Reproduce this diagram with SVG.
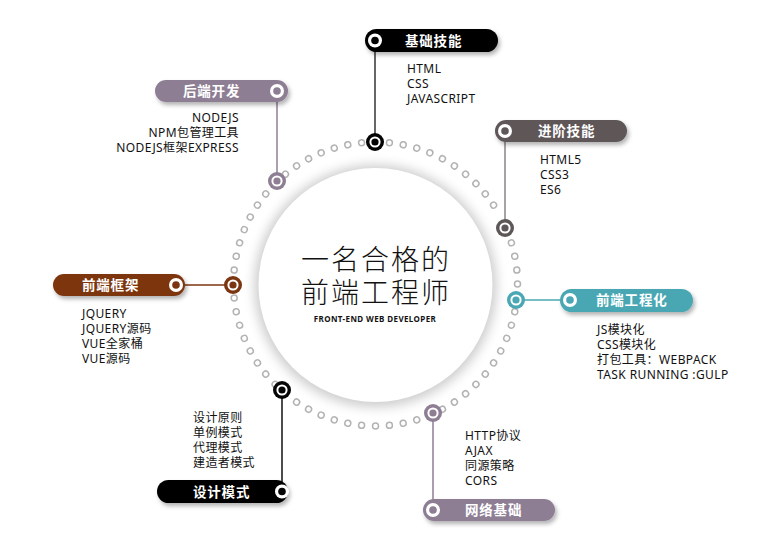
<svg xmlns="http://www.w3.org/2000/svg" xmlns:xlink="http://www.w3.org/1999/xlink" width="778" height="557" viewBox="0 0 778 557">
<style>
.t{font-family:"Noto Sans","Noto Sans CJK SC",sans-serif;font-size:12px;fill:#111;letter-spacing:0.4px}
.lab{font-family:"Noto Sans CJK SC","Noto Sans",sans-serif;font-size:13.5px;font-weight:bold;fill:#fff;letter-spacing:0.8px}
.dot{fill:#fff;stroke:#b3b3b3;stroke-width:1.5}
.ring{fill:none;stroke:#fff;stroke-width:2}
.big{font-family:"Noto Sans CJK SC","Noto Sans",sans-serif;font-size:28px;font-weight:300;fill:#111;letter-spacing:2px}
</style>
<defs>
<filter id="sh" x="-20%" y="-40%" width="140%" height="200%">
<feDropShadow dx="2" dy="3" stdDeviation="2" flood-color="#000" flood-opacity="0.3"/>
</filter>
<filter id="blur" x="-20%" y="-20%" width="140%" height="140%">
<feGaussianBlur stdDeviation="6"/>
</filter>
<circle id="dot" class="dot" cx="375.5" cy="142" r="3"/>
</defs>
<rect width="778" height="557" fill="#fff"/>

<g id="center">
<circle cx="375.5" cy="286" r="121" fill="#000" opacity="0.2" filter="url(#blur)"/>
<circle cx="375.5" cy="285" r="117" fill="#fff"/>
<text class="big" x="376" y="270" text-anchor="middle">一名合格的</text>
<text class="big" x="376" y="303" text-anchor="middle">前端工程师</text>
<text x="375" y="322" text-anchor="middle" font-family="Noto Sans, sans-serif" font-size="8" font-weight="bold" fill="#111" letter-spacing="0.4">FRONT-END WEB DEVELOPER</text>
</g>

<g id="dots">
<use xlink:href="#dot" transform="rotate(5.625 375.5 284)"/>
<use xlink:href="#dot" transform="rotate(11.25 375.5 284)"/>
<use xlink:href="#dot" transform="rotate(16.875 375.5 284)"/>
<use xlink:href="#dot" transform="rotate(22.5 375.5 284)"/>
<use xlink:href="#dot" transform="rotate(28.125 375.5 284)"/>
<use xlink:href="#dot" transform="rotate(33.75 375.5 284)"/>
<use xlink:href="#dot" transform="rotate(39.375 375.5 284)"/>
<use xlink:href="#dot" transform="rotate(45 375.5 284)"/>
<use xlink:href="#dot" transform="rotate(50.625 375.5 284)"/>
<use xlink:href="#dot" transform="rotate(56.25 375.5 284)"/>
<use xlink:href="#dot" transform="rotate(67.5 375.5 284)"/>
<use xlink:href="#dot" transform="rotate(73.125 375.5 284)"/>
<use xlink:href="#dot" transform="rotate(78.75 375.5 284)"/>
<use xlink:href="#dot" transform="rotate(84.375 375.5 284)"/>
<use xlink:href="#dot" transform="rotate(90 375.5 284)"/>
<use xlink:href="#dot" transform="rotate(101.25 375.5 284)"/>
<use xlink:href="#dot" transform="rotate(106.875 375.5 284)"/>
<use xlink:href="#dot" transform="rotate(112.5 375.5 284)"/>
<use xlink:href="#dot" transform="rotate(118.125 375.5 284)"/>
<use xlink:href="#dot" transform="rotate(123.75 375.5 284)"/>
<use xlink:href="#dot" transform="rotate(129.375 375.5 284)"/>
<use xlink:href="#dot" transform="rotate(135 375.5 284)"/>
<use xlink:href="#dot" transform="rotate(140.625 375.5 284)"/>
<use xlink:href="#dot" transform="rotate(146.25 375.5 284)"/>
<use xlink:href="#dot" transform="rotate(151.875 375.5 284)"/>
<use xlink:href="#dot" transform="rotate(163.125 375.5 284)"/>
<use xlink:href="#dot" transform="rotate(168.75 375.5 284)"/>
<use xlink:href="#dot" transform="rotate(174.375 375.5 284)"/>
<use xlink:href="#dot" transform="rotate(180 375.5 284)"/>
<use xlink:href="#dot" transform="rotate(185.625 375.5 284)"/>
<use xlink:href="#dot" transform="rotate(191.25 375.5 284)"/>
<use xlink:href="#dot" transform="rotate(196.875 375.5 284)"/>
<use xlink:href="#dot" transform="rotate(202.5 375.5 284)"/>
<use xlink:href="#dot" transform="rotate(208.125 375.5 284)"/>
<use xlink:href="#dot" transform="rotate(213.75 375.5 284)"/>
<use xlink:href="#dot" transform="rotate(225 375.5 284)"/>
<use xlink:href="#dot" transform="rotate(230.625 375.5 284)"/>
<use xlink:href="#dot" transform="rotate(236.25 375.5 284)"/>
<use xlink:href="#dot" transform="rotate(241.875 375.5 284)"/>
<use xlink:href="#dot" transform="rotate(247.5 375.5 284)"/>
<use xlink:href="#dot" transform="rotate(253.125 375.5 284)"/>
<use xlink:href="#dot" transform="rotate(258.75 375.5 284)"/>
<use xlink:href="#dot" transform="rotate(264.375 375.5 284)"/>
<use xlink:href="#dot" transform="rotate(275.625 375.5 284)"/>
<use xlink:href="#dot" transform="rotate(281.25 375.5 284)"/>
<use xlink:href="#dot" transform="rotate(286.875 375.5 284)"/>
<use xlink:href="#dot" transform="rotate(292.5 375.5 284)"/>
<use xlink:href="#dot" transform="rotate(298.125 375.5 284)"/>
<use xlink:href="#dot" transform="rotate(303.75 375.5 284)"/>
<use xlink:href="#dot" transform="rotate(309.375 375.5 284)"/>
<use xlink:href="#dot" transform="rotate(320.625 375.5 284)"/>
<use xlink:href="#dot" transform="rotate(326.25 375.5 284)"/>
<use xlink:href="#dot" transform="rotate(331.875 375.5 284)"/>
<use xlink:href="#dot" transform="rotate(337.5 375.5 284)"/>
<use xlink:href="#dot" transform="rotate(343.125 375.5 284)"/>
<use xlink:href="#dot" transform="rotate(348.75 375.5 284)"/>
<use xlink:href="#dot" transform="rotate(354.375 375.5 284)"/>
</g>

<g id="connectors" stroke-width="1.5" fill="none">
<line x1="375" y1="52" x2="375" y2="142" stroke="#333"/>
<line x1="277" y1="100" x2="277" y2="181" stroke="#8e7e94"/>
<line x1="505" y1="140" x2="505" y2="228" stroke="#8a8384"/>
<line x1="180" y1="285" x2="233" y2="285" stroke="#7b3511"/>
<line x1="516" y1="300" x2="565" y2="300" stroke="#4aa7b3"/>
<line x1="282" y1="390" x2="282" y2="484" stroke="#111"/>
<line x1="433" y1="413" x2="433" y2="504" stroke="#8e7e94"/>
</g>

<g id="n-basic">
<rect x="365" y="29" width="133" height="23" rx="11.5" fill="#050505" filter="url(#sh)"/>
<circle cx="375" cy="40.5" r="7" fill="#fff"/><circle cx="375" cy="40.5" r="3.8" fill="#050505"/>
<text class="lab" x="405" y="45.5">基础技能</text>
<circle cx="375" cy="142" r="9" fill="#050505"/><circle class="ring" cx="375" cy="142" r="4.6"/>
<text class="t" x="407" y="73">HTML</text>
<text class="t" x="407" y="88">CSS</text>
<text class="t" x="407" y="103">JAVASCRIPT</text>
</g>

<g id="n-backend">
<rect x="155" y="80" width="133" height="22" rx="11" fill="#8e7e94" filter="url(#sh)"/>
<circle cx="277" cy="91" r="7" fill="#fff"/><circle cx="277" cy="91" r="3.8" fill="#8e7e94"/>
<text class="lab" x="183" y="96">后端开发</text>
<circle cx="277" cy="181" r="9" fill="#8e7e94"/><circle class="ring" cx="277" cy="181" r="4.6"/>
<text class="t" x="239" y="122" text-anchor="end">NODEJS</text>
<text class="t" x="239" y="137" text-anchor="end">NPM包管理工具</text>
<text class="t" x="239" y="152" text-anchor="end">NODEJS框架EXPRESS</text>
</g>

<g id="n-advanced">
<rect x="495" y="120" width="132" height="22" rx="11" fill="#5e5758" filter="url(#sh)"/>
<circle cx="505" cy="131" r="7" fill="#fff"/><circle cx="505" cy="131" r="3.8" fill="#5e5758"/>
<text class="lab" x="538" y="136">进阶技能</text>
<circle cx="505" cy="228" r="9" fill="#5e5758"/><circle class="ring" cx="505" cy="228" r="4.6"/>
<text class="t" x="540" y="164">HTML5</text>
<text class="t" x="540" y="179">CSS3</text>
<text class="t" x="540" y="194">ES6</text>
</g>

<g id="n-framework">
<rect x="53" y="274" width="132" height="22" rx="11" fill="#7b3511" filter="url(#sh)"/>
<circle cx="176" cy="285" r="7" fill="#fff"/><circle cx="176" cy="285" r="3.8" fill="#7b3511"/>
<text class="lab" x="82" y="290">前端框架</text>
<circle cx="233" cy="285" r="9" fill="#7b3511"/><circle class="ring" cx="233" cy="285" r="4.6"/>
<text class="t" x="82" y="318">JQUERY</text>
<text class="t" x="82" y="333">JQUERY源码</text>
<text class="t" x="82" y="348">VUE全家桶</text>
<text class="t" x="82" y="363">VUE源码</text>
</g>

<g id="n-engineering">
<rect x="560" y="289" width="133" height="23" rx="11.5" fill="#4aa7b3" filter="url(#sh)"/>
<circle cx="570" cy="300" r="7" fill="#fff"/><circle cx="570" cy="300" r="3.8" fill="#4aa7b3"/>
<text class="lab" x="596" y="305">前端工程化</text>
<circle cx="516" cy="300" r="9" fill="#4aa7b3"/><circle class="ring" cx="516" cy="300" r="4.6"/>
<text class="t" x="597" y="334">JS模块化</text>
<text class="t" x="597" y="349">CSS模块化</text>
<text class="t" x="597" y="364">打包工具：WEBPACK</text>
<text class="t" x="597" y="379">TASK RUNNING :GULP</text>
</g>

<g id="n-design">
<rect x="157" y="480" width="131" height="23" rx="11.5" fill="#050505" filter="url(#sh)"/>
<circle cx="282" cy="491.5" r="7" fill="#fff"/><circle cx="282" cy="491.5" r="3.8" fill="#050505"/>
<text class="lab" x="193" y="496.5">设计模式</text>
<circle cx="282" cy="390" r="9" fill="#050505"/><circle class="ring" cx="282" cy="390" r="4.6"/>
<text class="t" x="193" y="422">设计原则</text>
<text class="t" x="193" y="437">单例模式</text>
<text class="t" x="193" y="452">代理模式</text>
<text class="t" x="193" y="467">建造者模式</text>
</g>

<g id="n-network">
<rect x="423" y="499" width="132" height="22" rx="11" fill="#8e7e94" filter="url(#sh)"/>
<circle cx="433" cy="510" r="7" fill="#fff"/><circle cx="433" cy="510" r="3.8" fill="#8e7e94"/>
<text class="lab" x="465" y="515">网络基础</text>
<circle cx="433" cy="413" r="9" fill="#8e7e94"/><circle class="ring" cx="433" cy="413" r="4.6"/>
<text class="t" x="465" y="440">HTTP协议</text>
<text class="t" x="465" y="455">AJAX</text>
<text class="t" x="465" y="470">同源策略</text>
<text class="t" x="465" y="485">CORS</text>
</g>
</svg>
